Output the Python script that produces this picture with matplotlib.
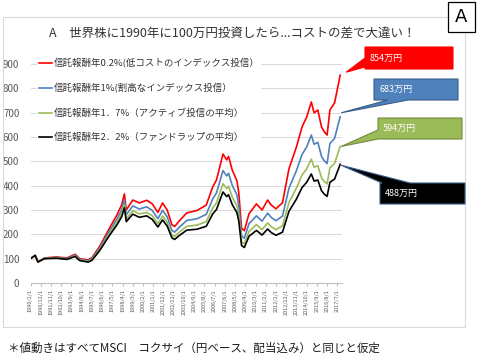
import matplotlib.pyplot as plt
from matplotlib.patches import Polygon, Rectangle

plt.rcParams['font.family'] = ['Noto Sans CJK JP', 'DejaVu Sans']

# months counted from 1990/1
months = [0, 5, 8, 15, 28, 39, 48, 53, 62, 66, 74, 85, 93, 98, 101, 103, 110, 117, 125, 131,
          137, 142, 147, 152, 155, 160, 168, 179, 189, 196, 200, 207, 211, 213, 217, 222, 224, 227, 230, 235,
          243, 249, 255, 259, 264, 271, 278, 286, 292, 297, 302, 305, 309, 313, 316, 319, 322, 327, 332, 333]

fee_02 = [100, 114, 87, 103, 107, 103, 118, 100, 95, 104, 148, 226, 280, 321, 366, 300, 341, 329, 340, 325,
          290, 329, 300, 240, 232, 255, 288, 298, 320, 395, 423, 530, 506, 520, 464, 420, 370, 225, 215, 285,
          325, 300, 341, 320, 305, 330, 470, 559, 641, 682, 744, 699, 711, 641, 621, 608, 711, 740, 834, 854]
fee_10 = [100, 114, 87, 102, 105, 100, 114, 97, 91, 100, 141, 214, 263, 300, 342, 280, 317, 304, 313, 298,
          264, 299, 272, 217, 209, 229, 257, 264, 282, 346, 370, 462, 440, 451, 401, 362, 319, 193, 184, 244,
          276, 254, 287, 269, 256, 275, 390, 462, 528, 559, 608, 570, 578, 520, 502, 491, 573, 594, 668, 683]
fee_17 = [100, 113, 86, 101, 103, 98, 111, 94, 88, 96, 135, 203, 249, 284, 322, 263, 297, 284, 290, 276,
          244, 275, 249, 198, 191, 209, 233, 238, 252, 308, 329, 408, 388, 398, 353, 318, 279, 169, 161, 212,
          240, 219, 247, 231, 219, 235, 331, 390, 444, 469, 509, 476, 482, 432, 417, 407, 474, 491, 549, 561]
fee_22 = [100, 113, 86, 100, 102, 97, 109, 92, 86, 93, 131, 196, 239, 272, 309, 252, 283, 270, 276, 261,
          230, 259, 234, 186, 179, 195, 217, 221, 233, 284, 302, 374, 355, 363, 322, 289, 254, 154, 146, 192,
          216, 197, 222, 207, 196, 209, 295, 345, 392, 414, 448, 419, 423, 379, 365, 356, 414, 427, 477, 488]

series = [fee_02, fee_10, fee_17, fee_22]
labels = ['信託報酬年0.2%(低コストのインデックス投信）',
          '信託報酬年1%(割高なインデックス投信）',
          '信託報酬年1．7%（アクティブ投信の平均）',
          '信託報酬年2．2%（ファンドラップの平均）']
colors = ['#ff0000', '#4f81bd', '#9bbb59', '#000000']
end_texts = ['854万円', '683万円', '594万円', '488万円']

tick_pos = list(range(0, 331, 11))
tick_labels = ['1990/1/1', '1990/12/1', '1991/11/1', '1992/10/1', '1993/9/1', '1994/8/1', '1995/7/1',
               '1996/6/1', '1997/5/1', '1998/4/1', '1999/3/1', '2000/2/1', '2001/1/1', '2001/12/1',
               '2002/11/1', '2003/10/1', '2004/9/1', '2005/8/1', '2006/7/1', '2007/6/1', '2008/5/1',
               '2009/4/1', '2010/3/1', '2011/2/1', '2012/1/1', '2012/12/1', '2013/11/1', '2014/10/1',
               '2015/9/1', '2016/8/1', '2017/7/1']

W, H = 480, 359
fig = plt.figure(figsize=(W / 100, H / 100), dpi=100)


def fx(x, y):
    # pixel (y down) -> figure fraction
    return (x / W, 1 - y / H)


# chart frame
fig.patches.append(Rectangle(fx(3, 327), 462 / W, 310 / H, transform=fig.transFigure,
                             facecolor='none', edgecolor='#d9d9d9', lw=0.8, zorder=0))

ax = fig.add_axes([30.5 / W, 1 - 283 / H, 311.5 / W, 219 / H])
for vals, lab, c in zip(series, labels, colors):
    ax.plot(months, vals, color=c, lw=1.2, label=lab)

ax.set_xlim(0, 335)
ax.set_ylim(0, 900)
ax.set_yticks(range(0, 901, 100))
ax.set_xticks(tick_pos)
ax.set_xticklabels(tick_labels, rotation=90, fontsize=4, color='#595959')
ax.tick_params(axis='y', length=0, pad=8, labelsize=7, labelcolor='#595959')
ax.tick_params(axis='x', length=2.5, color='#bfbfbf', pad=2)
ax.grid(axis='y', color='#d9d9d9', lw=0.7)
ax.set_axisbelow(True)
for s in ['top', 'right', 'left']:
    ax.spines[s].set_visible(False)
ax.spines['bottom'].set_color('#bfbfbf')
ax.patch.set_alpha(0)

leg = ax.legend(loc='upper left', bbox_to_anchor=(0.02, 1.035), fontsize=6.8, frameon=True,
                facecolor='white', edgecolor='none', framealpha=1, handlelength=1.4,
                handletextpad=0.2, labelspacing=1.58, borderpad=0.2, borderaxespad=0,
                labelcolor='#333333')

# callouts: box (x0, y0, x1, y1) in pixels, wedge side and base, tip offset
boxes = [(365, 47, 453, 69), (374, 79, 458, 100), (378, 118, 462, 139), (380, 183, 465, 204)]
wedges = [('left', 58, 67), ('bottom', 388, 408), ('left', 130, 139), ('top', 382, 410)]
tip_off = [(6, -3), (1, -4), (1, 0), (1, 1)]
faces = ['#ff0000', '#4f81bd', '#9bbb59', '#000000']
edges = ['#ff0000', '#385d8a', '#71893f', '#385d8a']

for vals, box, wd, off, fc, ec, txt in zip(series, boxes, wedges, tip_off, faces, edges, end_texts):
    d = ax.transData.transform((months[-1], vals[-1]))
    tx, ty = d[0] + off[0], H - d[1] + off[1]
    x0, y0, x1, y1 = box
    side, b1, b2 = wd
    if side == 'left':
        pts = [(x0, y0), (x1, y0), (x1, y1), (x0, y1), (x0, b2), (tx, ty), (x0, b1)]
    elif side == 'bottom':
        pts = [(x0, y0), (x1, y0), (x1, y1), (b2, y1), (tx, ty), (b1, y1), (x0, y1)]
    else:
        pts = [(x0, y0), (b1, y0), (tx, ty), (b2, y0), (x1, y0), (x1, y1), (x0, y1)]
    fig.patches.append(Polygon([fx(*p) for p in pts], closed=True, transform=fig.transFigure,
                               facecolor=fc, edgecolor=ec, lw=0.8, zorder=3))
    fig.text(*fx(x0 + 5, (y0 + y1) / 2), txt, color='white', fontsize=6.5,
             ha='left', va='center', zorder=4)

# "A" badge
fig.patches.append(Rectangle(fx(448, 32), 27 / W, 30 / H, transform=fig.transFigure,
                             facecolor='white', edgecolor='black', lw=0.9))
fig.text(*fx(461.5, 17), 'A', fontsize=13, ha='center', va='center', family='DejaVu Sans')

fig.text(*fx(232, 34), 'A　世界株に1990年に100万円投資したら...コストの差で大違い！',
         fontsize=9, color='#333333', ha='center', va='center')
fig.text(*fx(8, 348), '＊値動きはすべてMSCI　コクサイ（円ベース、配当込み）と同じと仮定',
         fontsize=8.3, color='#1a1a1a', ha='left', va='center')

fig.savefig('out.png', dpi=100)
